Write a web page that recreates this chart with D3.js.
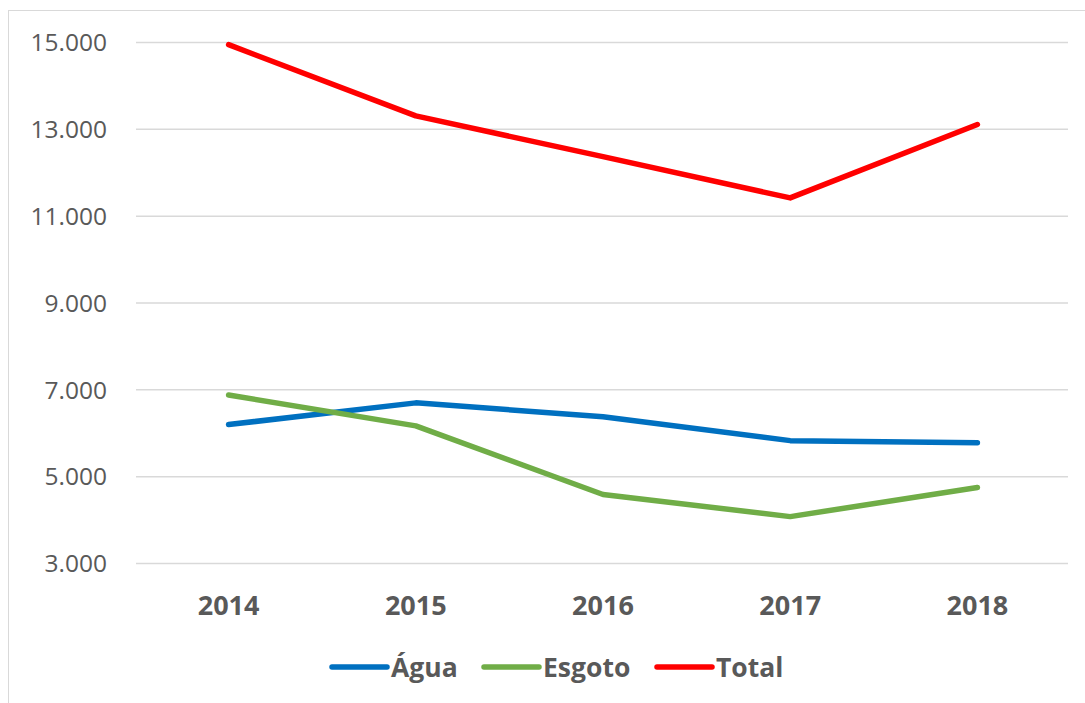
<!DOCTYPE html>
<html>
<head>
<meta charset="utf-8">
<script src="https://cdn.jsdelivr.net/npm/d3@7"></script>
<style>
  html, body { margin: 0; padding: 0; background: #fff; }
  svg { display: block; font-family: "Open Sans", "Noto Sans", sans-serif; }
</style>
</head>
<body>
<svg id="chart" width="1085" height="703"></svg>
<script>
// 데이터
const years = ["2014", "2015", "2016", "2017", "2018"];
const agua = [6200, 6700, 6380, 5830, 5780];
const esgoto = [6880, 6170, 4590, 4080, 4750];
const total = [14950, 13310, 12370, 11420, 13110];
const yTicks = [3000, 5000, 7000, 9000, 11000, 13000, 15000];

const series = [
  { name: "Água", values: agua, color: "#0070C0" },
  { name: "Esgoto", values: esgoto, color: "#70AD47" },
  { name: "Total", values: total, color: "#FF0000" },
];

const svg = d3.select("#chart");
const textColor = "#595959";

// 차트 테두리
svg.append("rect")
  .attr("x", 8.5).attr("y", 10.5)
  .attr("width", 1100).attr("height", 720)
  .attr("fill", "none")
  .attr("stroke", "#d9d9d9")
  .attr("stroke-width", 1);

const x = d3.scalePoint().domain(years).range([135, 1071]).padding(0.5);
const y = d3.scaleLinear().domain([3000, 15000]).range([563.5, 42.5]);

const fmt = d3.formatLocale({ decimal: ",", thousands: ".", grouping: [3], currency: ["", ""] }).format(",d");

// 눈금선
svg.append("g")
  .selectAll("line")
  .data(yTicks)
  .join("line")
  .attr("x1", 136).attr("x2", 1068)
  .attr("y1", (d) => y(d)).attr("y2", (d) => y(d))
  .attr("stroke", "#d9d9d9")
  .attr("stroke-width", 1.5);

// y축 라벨
svg.append("g")
  .selectAll("text")
  .data(yTicks)
  .join("text")
  .attr("x", 107)
  .attr("y", (d) => y(d))
  .attr("dy", "0.36em")
  .attr("text-anchor", "end")
  .attr("font-size", 24.5)
  .attr("fill", textColor)
  .text((d) => fmt(d));

// x축 라벨
svg.append("g")
  .selectAll("text")
  .data(years)
  .join("text")
  .attr("x", (d) => x(d))
  .attr("y", 615)
  .attr("text-anchor", "middle")
  .attr("font-size", 27)
  .attr("font-weight", "bold")
  .attr("fill", textColor)
  .text((d) => d);

// 선
const line = d3.line()
  .x((d, i) => x(years[i]))
  .y((d) => y(d));

svg.append("g")
  .selectAll("path")
  .data(series)
  .join("path")
  .attr("d", (d) => line(d.values))
  .attr("fill", "none")
  .attr("stroke", (d) => d.color)
  .attr("stroke-width", 5.5)
  .attr("stroke-linecap", "round")
  .attr("stroke-linejoin", "round");

// 범례
const legendX = [332, 484, 657];
const lg = svg.append("g")
  .selectAll("g")
  .data(series)
  .join("g")
  .attr("transform", (d, i) => `translate(${legendX[i]},667)`);

lg.append("line")
  .attr("x1", 0).attr("x2", 55)
  .attr("stroke", (d) => d.color)
  .attr("stroke-width", 5.5)
  .attr("stroke-linecap", "round");

lg.append("text")
  .attr("x", 59)
  .attr("y", 10)
  .attr("font-size", 26.5)
  .attr("font-weight", "bold")
  .attr("fill", textColor)
  .text((d) => d.name);
</script>
</body>
</html>
